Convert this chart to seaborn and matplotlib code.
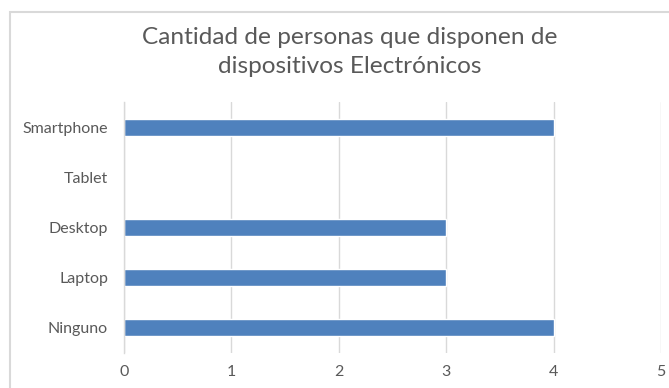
import matplotlib
matplotlib.use("Agg")
import matplotlib.pyplot as plt
import seaborn as sns
import pandas as pd
from matplotlib.patches import Rectangle

categories = ["Smartphone", "Tablet", "Desktop", "Laptop", "Ninguno"]
values = [4, 0, 3, 3, 4]
title = "Cantidad de personas que disponen de\ndispositivos Electrónicos"

sns.set_theme(style="white")
plt.rcParams['font.family'] = ['Lato', 'DejaVu Sans']

df = pd.DataFrame({"cat": categories, "val": values})

fig = plt.figure(figsize=(6.69, 3.88), dpi=100)
ax = fig.add_axes([124/669, 1-353/388, (661-124)/669, (353-102)/388])

sns.barplot(data=df, x="val", y="cat", order=categories, color="#4f81bd",
            width=0.34, ax=ax, saturation=1)

ax.set_xlim(0, 5)
ax.set_xticks([0, 1, 2, 3, 4, 5])
ax.xaxis.grid(True, color="#d9d9d9", linewidth=1)
ax.set_axisbelow(True)
for s in ["top", "right", "bottom"]:
    ax.spines[s].set_visible(False)
ax.spines["left"].set_color("#d9d9d9")
ax.spines["left"].set_linewidth(1)
ax.set_xlabel("")
ax.set_ylabel("")
ax.tick_params(axis="both", length=0, colors="#595959", labelsize=11.5)
ax.tick_params(axis="x", pad=9)
ax.tick_params(axis="y", pad=11.5)

fig.text(350/669, 1-52/388, title, ha="center", va="center", fontsize=17.6,
         color="#595959", linespacing=1.5)

fig.patches.append(Rectangle((10/669, -0.1), 1.1, 1.1 - 12/388 + 0.0,
                             transform=fig.transFigure, fill=False,
                             edgecolor="#d9d9d9", linewidth=1.5))

fig.savefig("out.png", dpi=100)
